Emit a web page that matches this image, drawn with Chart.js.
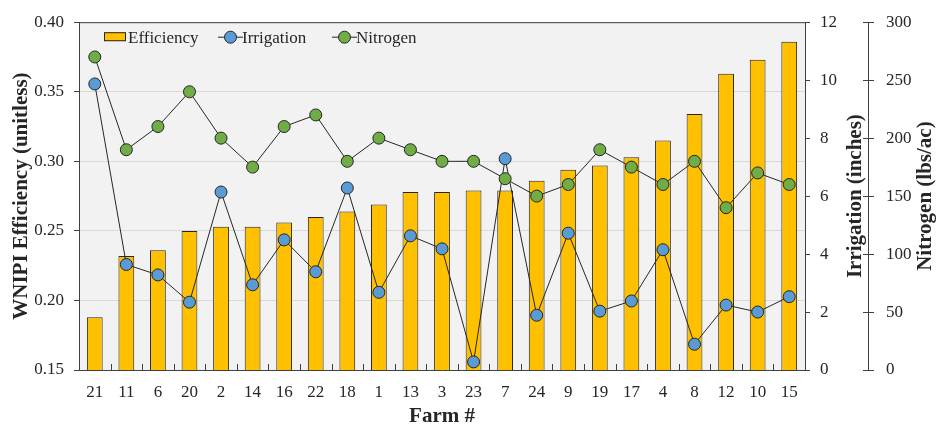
<!DOCTYPE html>
<html>
<head>
<meta charset="utf-8">
<script src="https://cdn.jsdelivr.net/npm/chart.js@4.4.1/dist/chart.umd.min.js"></script>
<style>
  body { margin: 0; background: #fff; }
  #myChart { display: block; }
</style>
</head>
<body>
<canvas id="myChart" width="938" height="429"></canvas>
<script>
const FARMS = ["21","11","6","20","2","14","16","22","18","1","13","3","23","7","24","9","19","17","4","8","12","10","15"];
const EFFICIENCY = [0.188,0.232,0.236,0.250,0.253,0.253,0.256,0.260,0.264,0.269,0.278,0.278,0.279,0.279,0.286,0.294,0.297,0.303,0.315,0.334,0.363,0.373,0.386];
const IRRIGATION = [9.87,3.64,3.28,2.34,6.14,2.94,4.49,3.39,6.28,2.68,4.63,4.18,0.28,7.29,1.89,4.72,2.03,2.38,4.15,0.89,2.24,2.00,2.53];
const NITROGEN = [270,190,210,240,200,175,210,220,180,200,190,180,180,165,150,160,190,175,160,180,140,170,160];

const EFF_TICKS = [0.15,0.20,0.25,0.30,0.35,0.40];
const IRR_TICKS = [0,2,4,6,8,10,12];
const NIT_TICKS = [0,50,100,150,200,250,300];

const MY_CHART = document.querySelector("#myChart");
const FONT = "'Liberation Serif', 'Times New Roman', serif";
const TEXT = "#262626";
const AXIS = "#404040";

Chart.defaults.font.family = FONT;
Chart.defaults.color = TEXT;

// background, top border, inward x ticks, rotated right titles, legend
const extras = {
  id: 'extras',
  beforeDraw(chart) {
    const {ctx, chartArea: a} = chart;
    ctx.save();
    ctx.fillStyle = "#f2f2f2";
    ctx.fillRect(a.left, a.top, a.right - a.left, a.bottom - a.top);
    ctx.restore();
  },
  afterDraw(chart) {
    const {ctx, chartArea: a, scales} = chart;
    ctx.save();
    ctx.strokeStyle = AXIS;
    ctx.lineWidth = 1;
    ctx.beginPath();
    ctx.moveTo(a.left, a.top + 0.5);
    ctx.lineTo(a.right, a.top + 0.5);
    // x ticks between categories, pointing up
    const x = scales.x;
    for (let i = 1; i < FARMS.length; i++) {
      const px = Math.round((x.getPixelForValue(i - 1) + x.getPixelForValue(i)) / 2) + 0.5;
      ctx.moveTo(px, a.bottom);
      ctx.lineTo(px, a.bottom - 6);
    }
    // nitrogen ticks cross the axis line
    const n = scales.yN;
    NIT_TICKS.forEach(v => {
      const py = Math.round(n.getPixelForValue(v)) + 0.5;
      ctx.moveTo(n.left - 5, py);
      ctx.lineTo(n.left, py);
    });
    ctx.stroke();

    // vertical titles, reading bottom to top
    ctx.fillStyle = TEXT;
    ctx.font = "bold 21px " + FONT;
    ctx.textAlign = 'center';
    ctx.textBaseline = 'alphabetic';
    const mid = (a.top + a.bottom) / 2;
    [[scales.y, scales.y.left + 27], [scales.yI, scales.yI.right - 7], [scales.yN, scales.yN.right - 7]].forEach(([s, bx]) => {
      ctx.save();
      ctx.translate(bx, mid);
      ctx.rotate(-Math.PI / 2);
      ctx.fillText(s.options.title.text, 0, 0);
      ctx.restore();
    });

    // legend inside the plot
    ctx.font = "17px " + FONT;
    ctx.textAlign = 'left';
    ctx.textBaseline = 'middle';
    const ly = a.top + 15;
    chart.data.datasets.forEach((ds, i) => {
      const lx = a.left + 25 + i * 114;
      ctx.lineWidth = 1;
      ctx.strokeStyle = ds.borderColor;
      if (ds.type === 'bar') {
        ctx.fillStyle = ds.backgroundColor;
        ctx.fillRect(lx, ly - 5, 22, 9);
        ctx.strokeRect(lx + 0.5, ly - 4.5, 21, 8);
      } else {
        ctx.beginPath();
        ctx.moveTo(lx, ly);
        ctx.lineTo(lx + 25, ly);
        ctx.stroke();
        ctx.beginPath();
        ctx.arc(lx + 12.5, ly, 6, 0, Math.PI * 2);
        ctx.fillStyle = ds.pointBackgroundColor;
        ctx.fill();
        ctx.strokeStyle = ds.pointBorderColor;
        ctx.stroke();
      }
      ctx.fillStyle = TEXT;
      ctx.fillText(ds.label, lx + 24, ly + 1);
    });
    ctx.restore();
  }
};

const data = {
  labels: FARMS,
  datasets: [{
    type: 'bar',
    label: 'Efficiency',
    data: EFFICIENCY,
    yAxisID: 'y',
    backgroundColor: "#FFC000",
    borderColor: "#262626",
    borderWidth: 1,
    barPercentage: 0.5,
    categoryPercentage: 1,
    order: 3
  }, {
    type: 'line',
    label: 'Irrigation',
    data: IRRIGATION,
    yAxisID: 'yI',
    borderColor: "#262626",
    borderWidth: 1,
    tension: 0,
    pointRadius: 6,
    pointBorderWidth: 1,
    pointBackgroundColor: "#5B9BD5",
    pointBorderColor: "#262626",
    order: 2
  }, {
    type: 'line',
    label: 'Nitrogen',
    data: NITROGEN,
    yAxisID: 'yN',
    borderColor: "#262626",
    borderWidth: 1,
    tension: 0,
    pointRadius: 6,
    pointBorderWidth: 1,
    pointBackgroundColor: "#70AD47",
    pointBorderColor: "#262626",
    order: 1
  }]
};

const CONFIG = {
  type: 'bar',
  data: data,
  plugins: [extras],
  options: {
    responsive: false,
    animation: false,
    devicePixelRatio: 1,
    layout: { padding: { top: 16, left: 0, right: 0, bottom: 0 } },
    plugins: { legend: { display: false }, tooltip: { enabled: false } },
    scales: {
      x: {
        offset: true,
        grid: { display: false, drawTicks: false },
        border: { color: AXIS, width: 1 },
        ticks: { padding: 12, font: { size: 17 }, maxRotation: 0, autoSkip: false },
        title: { display: true, text: 'Farm #', font: { size: 21, weight: 'bold' }, padding: 0 },
        afterFit: s => { s.height = 59; }
      },
      y: {
        position: 'left',
        min: 0.15, max: 0.40,
        afterBuildTicks: s => { s.ticks = EFF_TICKS.map(v => ({ value: v })); },
        grid: { color: "#d9d9d9", tickColor: AXIS, tickLength: 5 },
        border: { color: AXIS, width: 1 },
        ticks: { padding: 10, font: { size: 17 }, callback: v => v.toFixed(2) },
        title: { display: false, text: 'WNIPI Efficiency (unitless)' },
        afterFit: s => { s.width = 79; }
      },
      yI: {
        position: 'right',
        weight: 0,
        min: 0, max: 12,
        afterBuildTicks: s => { s.ticks = IRR_TICKS.map(v => ({ value: v })); },
        grid: { drawOnChartArea: false, tickColor: AXIS, tickLength: 5 },
        border: { color: AXIS, width: 1 },
        ticks: { padding: 10, font: { size: 17 } },
        title: { display: false, text: 'Irrigation (inches)' },
        afterFit: s => { s.width = 63; }
      },
      yN: {
        position: 'right',
        weight: 1,
        min: 0, max: 300,
        afterBuildTicks: s => { s.ticks = NIT_TICKS.map(v => ({ value: v })); },
        grid: { drawOnChartArea: false, tickColor: AXIS, tickLength: 6 },
        border: { color: AXIS, width: 1 },
        ticks: { padding: 12, font: { size: 17 } },
        title: { display: false, text: 'Nitrogen (lbs/ac)' },
        afterFit: s => { s.width = 70; }
      }
    }
  }
};

new Chart(MY_CHART, CONFIG);
</script>
</body>
</html>
